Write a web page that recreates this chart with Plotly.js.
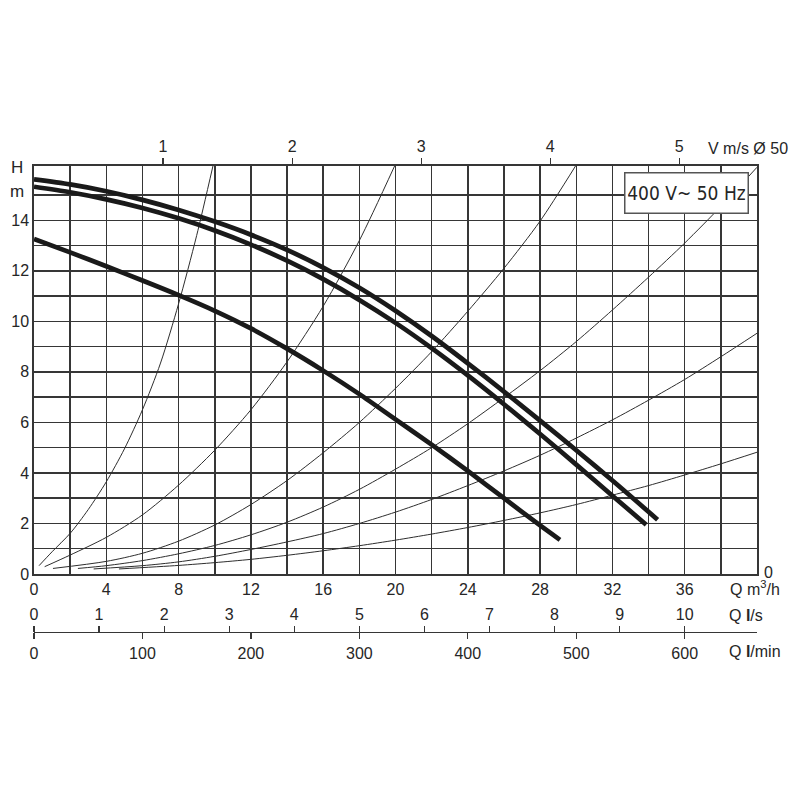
<!DOCTYPE html>
<html>
<head>
<meta charset="utf-8">
<script src="https://cdn.plot.ly/plotly-3.0.1.min.js"></script>
<style>html,body{margin:0;padding:0;background:#fff;}#chart{width:800px;height:800px;}</style>
</head>
<body>
<div id="chart"></div>
<script>
// ---- Pump curves (Q in m3/h, H in m) ----
const pumpA_Q = [0, 2, 4, 6, 8, 10, 12, 14, 16, 18, 20, 22, 24, 26, 28, 30, 32, 34.5];
const pumpA_H = [15.62, 15.42, 15.15, 14.81, 14.41, 13.95, 13.43, 12.83, 12.13, 11.33, 10.42, 9.42, 8.34, 7.22, 6.07, 4.9, 3.7, 2.15];
const pumpB_Q = [0, 2, 4, 6, 8, 10, 12, 14, 16, 18, 20, 22, 24, 26, 28, 30, 32, 33.87];
const pumpB_H = [15.33, 15.11, 14.83, 14.49, 14.08, 13.6, 13.04, 12.4, 11.67, 10.85, 9.94, 8.94, 7.86, 6.72, 5.54, 4.33, 3.1, 1.95];
const pumpC_Q = [0, 2, 4, 6, 8, 10, 12, 14, 16, 18, 20, 22, 24, 26, 28, 29.1];
const pumpC_H = [13.26, 12.73, 12.18, 11.62, 11.04, 10.42, 9.72, 8.92, 8.05, 7.12, 6.12, 5.12, 4.08, 3.0, 1.92, 1.35];

// ---- System (pipe) curves ----
const sys1_Q = [0.28, 1, 2, 3, 4, 5, 6, 7, 8, 9, 9.9];
const sys1_H = [0.33, 0.88, 1.61, 2.55, 3.65, 4.95, 6.5, 8.35, 10.7, 13.4, 16.15];
const sys2_Q = [0.59, 2, 4, 6, 8, 10, 12, 14, 16, 18, 19.95];
const sys2_H = [0.29, 0.75, 1.45, 2.34, 3.52, 4.9, 6.5, 8.4, 10.6, 13.2, 16.15];
const sys3_Q = [1.05, 4, 6, 8, 10, 12, 14, 16, 18, 20, 22, 24, 26, 28, 29.96];
const sys3_H = [0.22, 0.5, 0.82, 1.3, 1.94, 2.75, 3.7, 4.8, 6.0, 7.35, 8.8, 10.4, 12.1, 13.97, 16.15];
const sys4_Q = [2.43, 4, 6, 8, 10, 12, 14, 16, 18, 20, 22, 24, 26, 28, 30, 32, 34, 36, 38, 40];
const sys4_H = [0.22, 0.33, 0.53, 0.8, 1.13, 1.55, 2.05, 2.65, 3.35, 4.15, 5.0, 5.95, 6.98, 8.05, 9.2, 10.45, 11.75, 13.1, 14.55, 16.1];
const sys5_Q = [3.3, 6, 8, 10, 12, 14, 16, 18, 20, 22, 24, 26, 28, 30, 32, 34, 36, 38, 40];
const sys5_H = [0.2, 0.33, 0.48, 0.7, 0.97, 1.27, 1.6, 2.0, 2.45, 2.95, 3.5, 4.08, 4.7, 5.38, 6.1, 6.88, 7.7, 8.6, 9.53];
const sys6_Q = [4.7, 8, 10, 12, 14, 16, 18, 20, 22, 24, 26, 28, 30, 32, 34, 36, 38, 40];
const sys6_H = [0.2, 0.34, 0.45, 0.58, 0.74, 0.92, 1.12, 1.34, 1.58, 1.84, 2.12, 2.42, 2.75, 3.12, 3.5, 3.92, 4.36, 4.82];

// ---- Axis ticks ----
const qTicks = [0, 4, 8, 12, 16, 20, 24, 28, 32, 36];
const qMinor = [2, 6, 10, 14, 18, 22, 26, 30, 34, 38];
const hTicks = [0, 2, 4, 6, 8, 10, 12, 14];
const hMinor = [1, 3, 5, 7, 9, 11, 13, 15];
const vTicks = [1, 2, 3, 4, 5];
const lsTicks = [0, 1, 2, 3, 4, 5, 6, 7, 8, 9, 10];
const lminTicks = [0, 100, 200, 300, 400, 500, 600];

const Q_MAX = 40, H_MAX = 16.15;
const M3H_PER_MS = 7.14;     // m3/h per 1 m/s in Ø50 pipe
const M3H_PER_LS = 3.6;
const M3H_PER_LMIN = 0.06;

const FONT = 'Liberation Sans, Arial, sans-serif';
const TXT = '#262626';
const GRID = '#363636';

const thick = {color: '#1a1a1a', width: 4.7, shape: 'spline', smoothing: 0.8};
const thin = {color: '#2e2e2e', width: 1, shape: 'spline', smoothing: 0.8};

function tr(x, y, line) {
  return {x: x, y: y, type: 'scatter', mode: 'lines', line: line, hoverinfo: 'skip', showlegend: false};
}
// invisible helper traces so that the secondary scales are drawn
function scaleTrace(ticks, axis) {
  return {x: ticks, y: ticks.map(() => 0), xaxis: axis, yaxis: 'y', type: 'scatter', mode: 'markers',
          marker: {opacity: 0, size: 1}, hoverinfo: 'skip', showlegend: false};
}

const data = [
  tr(sys1_Q, sys1_H, thin), tr(sys2_Q, sys2_H, thin), tr(sys3_Q, sys3_H, thin),
  tr(sys4_Q, sys4_H, thin), tr(sys5_Q, sys5_H, thin), tr(sys6_Q, sys6_H, thin),
  tr(pumpA_Q, pumpA_H, thick), tr(pumpB_Q, pumpB_H, thick), tr(pumpC_Q, pumpC_H, thick),
  scaleTrace(vTicks, 'x2'), scaleTrace(lsTicks, 'x3'), scaleTrace(lminTicks, 'x4')
];

const plotH = 466; // px from top of grid (166) to Q-axis line (632)
const layout = {
  width: 800, height: 800,
  margin: {l: 34, r: 43, t: 166, b: 168, pad: 0},
  paper_bgcolor: '#fff', plot_bgcolor: 'rgba(0,0,0,0)',
  font: {family: FONT, size: 16, color: TXT},
  showlegend: false,
  xaxis: {
    range: [0, Q_MAX], anchor: 'y', tickmode: 'array', tickvals: qTicks,
    showgrid: true, gridcolor: GRID, gridwidth: 1.5,
    minor: {tickmode: 'array', tickvals: qMinor, showgrid: true, gridcolor: GRID, gridwidth: 1.5, ticks: ''},
    showline: true, linecolor: GRID, linewidth: 1.7, ticks: '', zeroline: false,
    tickfont: {size: 16, color: TXT}, fixedrange: true
  },
  yaxis: {
    domain: [58 / plotH, 1], range: [0, H_MAX], anchor: 'x', tickmode: 'array', tickvals: hTicks,
    showgrid: true, gridcolor: GRID, gridwidth: 1.5,
    minor: {tickmode: 'array', tickvals: hMinor, showgrid: true, gridcolor: GRID, gridwidth: 1.5, ticks: ''},
    showline: true, mirror: true, linecolor: GRID, linewidth: 1.7, ticks: '', zeroline: false,
    tickfont: {size: 16, color: TXT}, fixedrange: true
  },
  xaxis2: {
    overlaying: 'x', side: 'top', anchor: 'y', range: [0, Q_MAX / M3H_PER_MS],
    tickmode: 'array', tickvals: vTicks, ticks: 'outside', ticklen: 6, tickwidth: 1.2, tickcolor: GRID,
    showline: true, linecolor: GRID, linewidth: 1.7, showgrid: false, zeroline: false,
    tickfont: {size: 16, color: TXT}, fixedrange: true
  },
  xaxis3: {
    overlaying: 'x', side: 'top', anchor: 'free', position: 0, range: [0, Q_MAX / M3H_PER_LS],
    tickmode: 'array', tickvals: lsTicks, ticks: 'outside', ticklen: 6, tickwidth: 1.2, tickcolor: GRID,
    showline: true, linecolor: GRID, linewidth: 1.4, showgrid: false, zeroline: false,
    tickfont: {size: 16, color: TXT}, fixedrange: true
  },
  xaxis4: {
    overlaying: 'x', side: 'bottom', anchor: 'free', position: 0, range: [0, Q_MAX / M3H_PER_LMIN],
    tickmode: 'array', tickvals: lminTicks, ticks: 'outside', ticklen: 6, tickwidth: 1.2, tickcolor: GRID,
    showline: true, linecolor: GRID, linewidth: 1.4, showgrid: false, zeroline: false,
    tickfont: {size: 16, color: TXT}, fixedrange: true
  },
  annotations: [
    {text: 'H', xref: 'paper', yref: 'paper', x: -17 / 723, y: (632 - 167) / plotH, showarrow: false, xanchor: 'center', yanchor: 'middle', font: {size: 17, color: TXT}},
    {text: 'm', xref: 'paper', yref: 'paper', x: -17 / 723, y: (632 - 191) / plotH, showarrow: false, xanchor: 'center', yanchor: 'middle', font: {size: 17, color: TXT}},
    {text: 'V m/s Ø 50', xref: 'paper', yref: 'paper', x: (706 - 34) / 723, y: (632 - 148) / plotH, showarrow: false, xanchor: 'left', yanchor: 'middle', font: {size: 16, color: TXT}},
    {text: 'Q m<sup>3</sup>/h', xref: 'paper', yref: 'paper', x: (728 - 34) / 723, y: (632 - 588) / plotH, showarrow: false, xanchor: 'left', yanchor: 'middle', font: {size: 16, color: TXT}},
    {text: '0', xref: 'paper', yref: 'paper', x: (768 - 34) / 723, y: (632 - 572) / plotH, showarrow: false, xanchor: 'center', yanchor: 'middle', font: {size: 16, color: TXT}},
    {text: 'Q <b>l</b>/s', xref: 'paper', yref: 'paper', x: (727 - 34) / 723, y: (632 - 615) / plotH, showarrow: false, xanchor: 'left', yanchor: 'middle', font: {size: 16, color: TXT}},
    {text: 'Q <b>l</b>/min', xref: 'paper', yref: 'paper', x: (727 - 34) / 723, y: (632 - 651) / plotH, showarrow: false, xanchor: 'left', yanchor: 'middle', font: {size: 16, color: TXT}},
    {text: '400 V~ 50 Hz', xref: 'paper', yref: 'paper', x: (686.5 - 34) / 723, y: (632 - 192.5) / plotH, showarrow: false, xanchor: 'center', yanchor: 'middle',
     width: 118, height: 35, align: 'center',
     font: {size: 19, color: TXT, family: 'Liberation Sans Narrow, DejaVu Sans Condensed, Arial Narrow, sans-serif'},
     bgcolor: '#fff', bordercolor: '#555', borderwidth: 1.5, borderpad: 2}
  ]
};

Plotly.newPlot('chart', data, layout, {staticPlot: true, displayModeBar: false});
</script>
</body>
</html>
